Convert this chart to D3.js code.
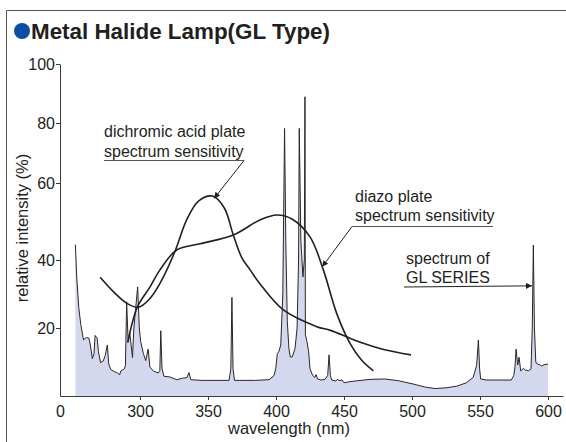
<!DOCTYPE html>
<html>
<head>
<meta charset="utf-8">
<script src="https://cdn.jsdelivr.net/npm/d3@7"></script>
<style>
  body { margin: 0; background: #fff; }
  svg text { font-family: "Liberation Sans", Arial, sans-serif; fill: #231f20; }
</style>
</head>
<body>
<div id="chart"></div>
<script>
// wavelength (nm) / relative intensity (%)
let spectrumNm = [252.5, 253.5, 255, 256.5, 258.5, 260.5, 262.5, 263.5, 265, 266.2, 267, 268.5, 269.5, 271, 273, 274.5, 276, 277, 278.5, 281, 283.5, 285, 286, 288.5, 289.3,
  290.2, 291.3, 292.5, 293.5, 294.5, 295.5, 298.3, 299.5, 300.5, 302.5, 304.2, 306, 307.3, 310, 313.5, 314.6, 315.3, 316.2, 317.6, 322, 327, 332, 334.5, 336, 337.3,
  345, 365.5, 366.8, 367.6, 368.4, 369.5, 385, 395, 398.5, 399.8, 401, 402, 403.5, 405, 406.3, 407.2, 408.3, 409.5, 410.5, 412, 414, 415.5, 416.6, 417.1, 418.3,
  419.8, 420.8, 421.3, 421.6, 422.8, 424, 425, 427, 428.5, 429.5, 430.5, 433, 436, 438, 439, 440, 441, 444, 445, 447, 448.5, 450, 454, 460, 470, 480, 490, 500,
  510, 517, 525, 533, 540, 545, 547.5, 548.8, 549.7, 550.5, 555, 573, 574.8, 575.7, 576.5, 577.7, 578.7, 579.9, 581.9, 583.5, 585.5, 587.5, 588.4, 589.2, 590,
  591, 592.1, 594, 595.3, 597, 598.5, 600];
let spectrumVal = [44, 35, 26, 21, 16.5, 17.2, 17, 15, 11, 12.5, 17.8, 17, 13, 9.8, 10.3, 12, 15, 9.5, 7.8, 7.2, 6.8, 6.2, 7.4, 8, 9,
  27.7, 16, 18.5, 15, 11.3, 20, 32.1, 20, 16, 12.5, 10.4, 13.8, 8.5, 7.3, 6.8, 7.5, 19.2, 8, 5.8, 5.6, 4.8, 5.3, 5.4, 6.9, 4.8,
  4.6, 4.6, 8, 29, 8, 4.6, 4.6, 4.8, 6, 8, 12.5, 13, 15, 30, 78.2, 45, 22, 14, 11.5, 11.5, 14, 20, 40, 78.2, 45,
  35, 40, 88.9, 18, 16, 13, 8, 6, 5.5, 6.3, 5, 4.7, 4.9, 6, 12.1, 6, 4.7, 4.4, 4.9, 4.5, 4.8, 3.9, 4.2, 4.5, 4.9, 5, 4.5, 3.6,
  2.6, 2.2, 2.4, 2.9, 3.9, 5.5, 9, 16.5, 8, 5, 4.7, 4.7, 6, 8.6, 13.8, 9.1, 11.4, 7.4, 8.1, 7.6, 7.4, 8, 20, 43.9, 20,
  10, 9.4, 9.2, 8.8, 9.2, 9.3, 9.4];

let dichromicNm = [270.7, 280.4, 290.2, 298.8, 307.4, 314.7, 325.7, 334.3, 343, 353.4, 362, 368.6, 375, 381, 388, 405.4, 430, 440, 454.4, 464.2, 480, 499.3];
let dichromicVal = [34.9, 30.7, 27.3, 26.1, 28.7, 33.1, 42.2, 50.4, 55.3, 56.6, 53.5, 46.5, 40.5, 37.1, 33.1, 25.3, 20.4, 19.3, 17, 15.5, 13.6, 12.1];

let diazoNm = [291, 298, 307.4, 314.7, 327, 344.1, 368.6, 388.2, 400.5, 412, 425, 434.8, 444.6, 454.4, 463, 471.6];
let diazoVal = [15.7, 26.1, 32.1, 37.1, 42.6, 44.2, 46.5, 50.4, 51.7, 50.6, 46, 37.1, 24.3, 15.5, 10.5, 7.4];

let yTicks = [20, 40, 60, 80, 100];
let xTicks = [300, 350, 400, 450, 500, 550, 600];

let w = 566, h = 442;

let svg = d3.select("#chart").append("svg")
  .attr("width", w)
  .attr("height", h);

// frame
svg.append("path")
  .attr("d", "M6.5,442 V10.5 H566")
  .attr("fill", "none")
  .attr("stroke", "#555")
  .attr("stroke-width", 1);

////////////// title //////////////
svg.append("circle").attr("cx", 22).attr("cy", 31).attr("r", 8).attr("fill", "#0b4ea2");
svg.append("text")
  .attr("x", 31).attr("y", 39)
  .attr("font-size", "22.4px")
  .attr("font-weight", "bold")
  .text("Metal Halide Lamp(GL Type)");

////////////// scales //////////////
let xOrigin = 241.2;
let x = d3.scaleLinear().domain([xOrigin, 611]).range([60, 563]);
// the printed y axis is not evenly spaced, so follow its tick positions
let y = d3.scaleLinear().domain([0, 20, 40, 60, 80, 100]).range([396, 328, 260, 183, 123, 64]);

let spectrum = spectrumNm.map((d, i) => [d, spectrumVal[i]]);
let dichromic = dichromicNm.map((d, i) => [d, dichromicVal[i]]);
let diazo = diazoNm.map((d, i) => [d, diazoVal[i]]);

// spectrum fill + trace
let area = d3.area().x(d => x(d[0])).y0(y(0)).y1(d => y(d[1]));
svg.append("path")
  .datum(spectrum)
  .attr("d", area)
  .attr("fill", "#d3d8ee");

let line = d3.line().x(d => x(d[0])).y(d => y(d[1]));
svg.append("path")
  .datum(spectrum)
  .attr("d", line)
  .attr("fill", "none")
  .attr("stroke", "#2a2627")
  .attr("stroke-width", 1)
  .attr("stroke-linejoin", "round");

// sensitivity curves
let smooth = d3.line().x(d => x(d[0])).y(d => y(d[1])).curve(d3.curveCatmullRom.alpha(0.5));
[dichromic, diazo].forEach(function(s) {
  svg.append("path")
    .datum(s)
    .attr("d", smooth)
    .attr("fill", "none")
    .attr("stroke", "#231f20")
    .attr("stroke-width", 1.6);
});

////////////// axes //////////////
let xAxis = d3.axisBottom(x)
  .tickValues([xOrigin].concat(xTicks))
  .tickFormat(d => d === xOrigin ? "0" : d)
  .tickSize(4)
  .tickSizeOuter(0);

let yAxis = d3.axisLeft(y)
  .tickValues(yTicks)
  .tickSize(4)
  .tickSizeOuter(0);

let gx = svg.append("g")
  .attr("transform", "translate(0," + y(0) + ")")
  .call(xAxis);
let gy = svg.append("g")
  .attr("transform", "translate(" + x(xOrigin) + ",0)")
  .call(yAxis);

[gx, gy].forEach(function(g) {
  g.select(".domain").attr("stroke", "#3a3a3a");
  g.selectAll(".tick line").attr("stroke", "#3a3a3a");
  g.selectAll(".tick text")
    .attr("font-size", "16px")
    .attr("font-family", "Liberation Sans, Arial, sans-serif")
    .attr("fill", "#231f20");
});
gx.selectAll(".tick text").attr("dy", "0.85em");
gy.selectAll(".tick text").attr("x", -5);
gx.select(".tick line").remove();

svg.append("text")
  .attr("x", 289).attr("y", 434)
  .attr("text-anchor", "middle")
  .attr("font-size", "16.5px")
  .text("wavelength (nm)");

svg.append("text")
  .attr("transform", "translate(28,228) rotate(-90)")
  .attr("text-anchor", "middle")
  .attr("font-size", "16.5px")
  .text("relative intensity (%)");

////////////// annotations //////////////
svg.append("defs").append("marker")
  .attr("id", "arrow")
  .attr("viewBox", "0 0 10 10")
  .attr("refX", 10).attr("refY", 5)
  .attr("markerWidth", 8).attr("markerHeight", 6)
  .attr("markerUnits", "userSpaceOnUse")
  .attr("orient", "auto")
  .append("path")
  .attr("d", "M0,0 L10,5 L0,10 z")
  .attr("fill", "#231f20");

function note(lines, tx, ty, under, arrowTo) {
  lines.forEach(function(t, i) {
    svg.append("text")
      .attr("x", tx).attr("y", ty + i * 19.5)
      .attr("font-size", "16px")
      .text(t);
  });
  if (under) {
    svg.append("line")
      .attr("x1", under[0]).attr("x2", under[1])
      .attr("y1", under[2]).attr("y2", under[2])
      .attr("stroke", "#555").attr("stroke-width", 1);
  }
  svg.append("line")
    .attr("x1", arrowTo[0]).attr("y1", arrowTo[1])
    .attr("x2", x(arrowTo[2])).attr("y2", y(arrowTo[3]))
    .attr("stroke", "#231f20").attr("stroke-width", 1)
    .attr("marker-end", "url(#arrow)");
}

note(["dichromic acid plate", "spectrum sensitivity"], 104, 137, [104, 244, 160.5], [244, 160.5, 354.5, 56]);
note(["diazo plate", "spectrum sensitivity"], 355, 201.5, [352, 493, 226.5], [352, 226.5, 434, 38]);
note(["spectrum of", "GL SERIES"], 406, 263.5, null, [404, 287, 588.2, 32.4]);
</script>
</body>
</html>
